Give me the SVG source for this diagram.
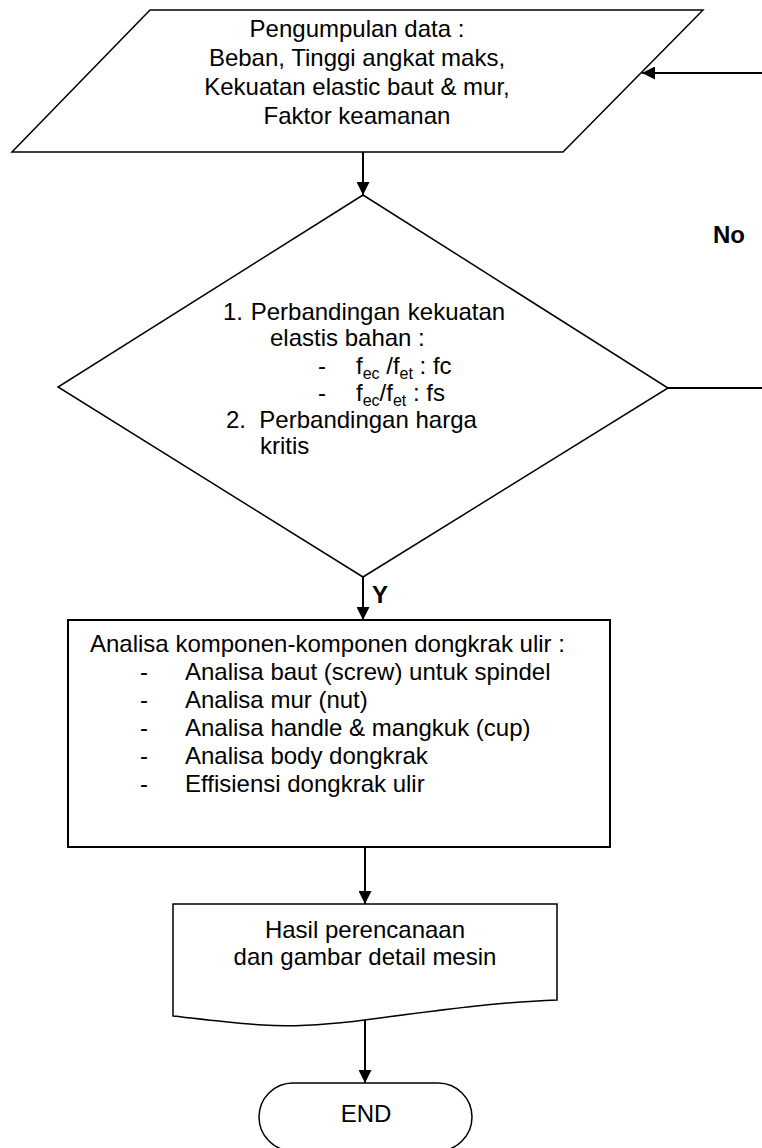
<svg xmlns="http://www.w3.org/2000/svg" width="762" height="1148" viewBox="0 0 762 1148">
<style>
.shape{fill:#fff;stroke:#000;stroke-width:1.5}
.box{fill:#fff;stroke:#000;stroke-width:2}
.conn{fill:none;stroke:#000;stroke-width:2}
.t{font-family:"Liberation Sans",Arial,sans-serif;font-size:24px;fill:#000}
.lbl{font-family:"Liberation Sans",Arial,sans-serif;font-size:24px;font-weight:bold;fill:#000}
.sub{font-size:16px}
</style>
<defs>
<marker id="arr" viewBox="0 0 10 10" refX="10" refY="5" markerWidth="6.5" markerHeight="6.5" markerUnits="strokeWidth" orient="auto">
<path d="M0,0 L10,5 L0,10 Z" fill="#000"/>
</marker>
</defs>
<g id="connectors">
<line class="conn" x1="363" y1="152" x2="363" y2="195" marker-end="url(#arr)"/>
<polyline class="conn" points="668,388 790,388 790,73 642,73" marker-end="url(#arr)"/>
<line class="conn" x1="363" y1="577" x2="363" y2="620" marker-end="url(#arr)"/>
<line class="conn" x1="365" y1="847" x2="365" y2="904" marker-end="url(#arr)"/>
<line class="conn" x1="365" y1="1020" x2="365" y2="1083" marker-end="url(#arr)"/>
<text class="lbl" x="713" y="243">No</text>
<text class="lbl" x="372" y="603">Y</text>
</g>
<g id="input">
<polygon class="shape" points="150,10 703,10 563,152 12,152"/>
<text class="t" text-anchor="middle" x="357" y="37">Pengumpulan data :</text>
<text class="t" text-anchor="middle" x="357" y="66">Beban, Tinggi angkat maks,</text>
<text class="t" text-anchor="middle" x="357" y="95">Kekuatan elastic baut &amp; mur,</text>
<text class="t" text-anchor="middle" x="357" y="124">Faktor keamanan</text>
</g>
<g id="decision">
<polygon class="shape" points="363,195 668,388 363,577 58,387"/>
<text class="t" x="223" y="320" word-spacing="1">1. Perbandingan kekuatan</text>
<text class="t" x="270" y="346">elastis bahan :</text>
<text class="t" x="318" y="374">-</text>
<text class="t" x="356" y="374">f<tspan class="sub" dy="5">ec</tspan><tspan dy="-5"> /f</tspan><tspan class="sub" dy="5">et</tspan><tspan dy="-5"> : fc</tspan></text>
<text class="t" x="318" y="401">-</text>
<text class="t" x="356" y="401">f<tspan class="sub" dy="5">ec</tspan><tspan dy="-5">/f</tspan><tspan class="sub" dy="5">et</tspan><tspan dy="-5"> :  fs</tspan></text>
<text class="t" x="226" y="428" xml:space="preserve">2.  Perbandingan harga</text>
<text class="t" x="260" y="454">kritis</text>
</g>
<g id="process">
<rect class="box" x="68" y="620" width="542" height="227"/>
<text class="t" x="90" y="652">Analisa komponen-komponen dongkrak ulir :</text>
<text class="t" x="140" y="680">-</text>
<text class="t" x="185" y="680">Analisa baut (screw) untuk spindel</text>
<text class="t" x="140" y="708">-</text>
<text class="t" x="185" y="708">Analisa mur (nut)</text>
<text class="t" x="140" y="736">-</text>
<text class="t" x="185" y="736">Analisa handle &amp; mangkuk (cup)</text>
<text class="t" x="140" y="764">-</text>
<text class="t" x="185" y="764">Analisa body dongkrak</text>
<text class="t" x="140" y="792">-</text>
<text class="t" x="185" y="792">Effisiensi dongkrak ulir</text>
</g>
<g id="document">
<path class="shape" d="M173,904 H557 V1000 C500,1002 440,1010 380,1018 C330,1025 290,1027 263,1025 C230,1023 200,1019 173,1016 Z"/>
<text class="t" text-anchor="middle" x="365" y="938">Hasil perencanaan</text>
<text class="t" text-anchor="middle" x="365" y="965">dan gambar detail mesin</text>
</g>
<g id="end">
<rect class="shape" x="259" y="1083" width="213" height="68" rx="34" ry="34"/>
<text class="t" text-anchor="middle" x="366" y="1122">END</text>
</g>
</svg>
